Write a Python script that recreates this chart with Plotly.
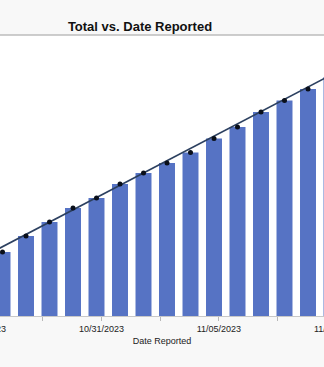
import plotly.graph_objects as go
import pandas as pd

# ---- data ----
dates = ["2023-10-27", "2023-10-28", "2023-10-29", "2023-10-30", "2023-10-31",
         "2023-11-01", "2023-11-02", "2023-11-03", "2023-11-04", "2023-11-05",
         "2023-11-06", "2023-11-07", "2023-11-08", "2023-11-09", "2023-11-10"]
totals = [64, 80, 94, 108, 118, 132, 143, 153, 163.5, 177.5, 189, 204, 215.5, 227, 239]

# trend line (estimated at two dates just outside the visible window)
trend_dates = ["2023-10-26", "2023-11-11"]
trend_values = [57, 253.5]

# axis tick labels
tick_dates = ["2023-10-26", "2023-10-31", "2023-11-05", "2023-11-10"]
tick_labels = ["10/26/2023", "10/31/2023", "11/05/2023", "11/10/2023"]

BAR = "#5673c4"
LINE = "#2c4060"

fig = go.Figure()
fig.add_trace(go.Bar(x=dates, y=totals, marker=dict(color=BAR, line=dict(width=0)),
                     name="Total", showlegend=False))
fig.add_trace(go.Scatter(x=trend_dates, y=trend_values, mode="lines",
                         line=dict(color=LINE, width=1.6), showlegend=False))
fig.add_trace(go.Scatter(x=dates, y=totals, mode="markers",
                         marker=dict(color="#0a0f1a", size=5), showlegend=False))

tick_off = pd.Timedelta(hours=5)
x0 = pd.Timestamp("2023-10-31") - pd.Timedelta(days=96.5 / 23.5)
x1 = pd.Timestamp("2023-10-31") + pd.Timedelta(days=(324 - 96.5) / 23.5)

major = [pd.Timestamp(d) + tick_off for d in tick_dates]
tickvals, ticktext = [], []
for i, (m, lab) in enumerate(zip(major, tick_labels)):
    tickvals.append(m)
    ticktext.append(lab)
    if i < len(major) - 1:
        tickvals.append(m + pd.Timedelta(days=2.5))
        ticktext.append("")

PLOT_H = 367 - 35 - 51

fig.update_layout(
    width=324, height=367,
    margin=dict(l=0, r=0, t=35, b=51),
    paper_bgcolor="#f8f8f8", plot_bgcolor="#ffffff",
    bargap=0.32,
    font=dict(family="Liberation Sans, Arial, sans-serif", size=9, color="#222222"),
    title=dict(text="<b>Total vs. Date Reported</b>", x=140 / 324, xanchor="center",
               y=1 - 26 / 367, yanchor="middle",
               font=dict(size=13, color="#111111", family="Liberation Sans, Arial, sans-serif")),
    xaxis=dict(type="date", range=[x0, x1], tickmode="array", tickvals=tickvals,
               ticktext=ticktext, ticks="outside", ticklen=4, tickcolor="#b8b8b8",
               showline=True, linecolor="#c8c8c8", linewidth=1, showgrid=False,
               zeroline=False,
               title=dict(text="Date Reported", standoff=4, font=dict(size=9, color="#222222"))),
    yaxis=dict(range=[0, 281], visible=False, showgrid=False, zeroline=False),
    shapes=[dict(type="line", xref="paper", yref="paper", x0=0, x1=1, y0=1, y1=1,
                 line=dict(color="#bdbdbd", width=1.5))],
)

# tick labels whose ticks sit just outside the visible window (partially shown at edges)
span = (x1 - x0)
for m, lab in zip(major, tick_labels):
    if m < x0 or m > x1:
        fig.add_annotation(x=(m - x0) / span, xref="paper", y=-12.5 / PLOT_H, yref="paper",
                           yanchor="middle", xanchor="center", text=lab,
                           showarrow=False, font=dict(size=9, color="#222222"))

fig.write_html("out.html")
